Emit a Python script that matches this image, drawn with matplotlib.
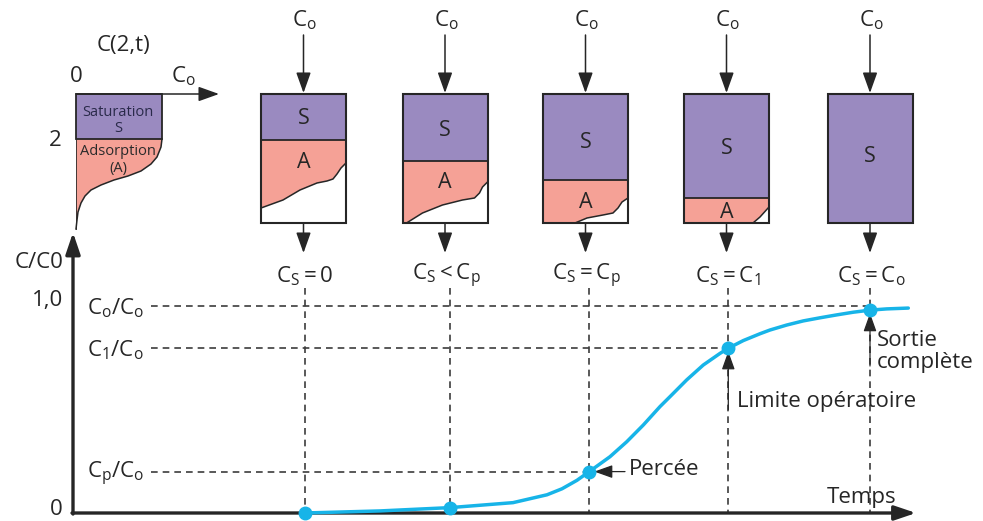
import matplotlib
matplotlib.use('Agg')
import matplotlib.pyplot as plt
from matplotlib.patches import Rectangle, Polygon

plt.rcParams['font.family'] = ['Open Sans', 'DejaVu Sans']
plt.rcParams['mathtext.fontset'] = 'custom'
plt.rcParams['mathtext.rm'] = 'Open Sans'
plt.rcParams['mathtext.it'] = 'Open Sans:italic'
plt.rcParams['mathtext.bf'] = 'Open Sans:bold'

# ---------------- data ----------------
# breakthrough curve (time in arbitrary units, C/C0)
curve_time = [2.32, 3.07, 3.77, 4.40, 4.74, 4.89, 5.04, 5.163, 5.37, 5.537,
              5.703, 5.87, 5.97, 6.137, 6.303, 6.47, 6.553, 6.703, 6.87, 6.97,
              7.137, 7.303, 7.47, 7.637, 7.803, 7.97, 8.137, 8.353]
curve_conc = [0.0, 0.010, 0.026, 0.050, 0.088, 0.117, 0.158, 0.200, 0.272, 0.344,
              0.425, 0.514, 0.562, 0.643, 0.715, 0.771, 0.796, 0.833, 0.866, 0.884,
              0.908, 0.928, 0.943, 0.957, 0.970, 0.980, 0.986, 0.990]

# states of the column
event_time = [2.32, 3.77, 5.163, 6.553, 7.97]
event_conc = [0.0, 0.026, 0.200, 0.796, 0.980]
state_labels = [r'$\mathrm{C_S} = 0$', r'$\mathrm{C_S} < \mathrm{C_p}$',
                r'$\mathrm{C_S} = \mathrm{C_p}$', r'$\mathrm{C_S} = \mathrm{C_1}$',
                r'$\mathrm{C_S} = \mathrm{C_o}$']
# fraction of the bed that is saturated
sat_fraction = [0.36, 0.52, 0.67, 0.81, 1.0]

# reference levels on the C/C0 axis
level_values = [1.0, 0.796, 0.200]
level_labels = [r'$\mathrm{C_o/C_o}$', r'$\mathrm{C_1/C_o}$', r'$\mathrm{C_p/C_o}$']
level_event = [4, 3, 2]  # which state the dashed line reaches

# ---------------- styles ----------------
PURPLE = '#9a8ac0'
PINK = '#f5a196'
BLUE = '#17b4e8'
DARK = '#262626'
DASH = '#3c3c3c'

W, H = 983, 521
fig = plt.figure(figsize=(W / 100, H / 100), dpi=100)

# pixel-space axes for the schematic drawings
axp = fig.add_axes([0, 0, 1, 1])
axp.set_xlim(0, W)
axp.set_ylim(H, 0)
axp.axis('off')

# chart axes (time, C/C0)
axc = fig.add_axes([0, 0, 1, 1])
axc.patch.set_alpha(0)
X0, XS = 73, 100.0      # pixel of t=0, pixels per time unit
Y0, YS = 513, 207.0     # pixel of C/C0=0, pixels per unit
axc.set_xlim((0 - X0) / XS, (W - X0) / XS)
axc.set_ylim((Y0 - H) / YS, Y0 / YS)
axc.axis('off')

FS = 16

# ---------------- top-left profile ----------------
pl, pr, pt, pb = 76, 162, 94, 139
prof_front = [(162, 139), (161, 147), (157, 157), (151, 164), (141, 171), (128, 176),
              (114, 180), (101, 185), (91, 190), (85, 196), (81, 203), (78, 212),
              (77, 220), (76, 229)]
axp.add_patch(Polygon([(pl, pb)] + prof_front, closed=True, fc=PINK, ec='none', zorder=1))
axp.plot([p[0] for p in prof_front], [p[1] for p in prof_front], color=DARK, lw=1.1, zorder=3)
axp.add_patch(Rectangle((pl, pt), pr - pl, pb - pt, fc=PURPLE, ec=DARK, lw=1.3, zorder=2))
axp.plot([pl, pl], [pb, 229], color=DARK, lw=0.6, zorder=3)
axp.annotate('', xy=(219, pt), xytext=(pl, pt),
             arrowprops=dict(arrowstyle='-|>,head_length=0.7,head_width=0.25', color=DARK,
                             lw=1.1, mutation_scale=18, shrinkA=0, shrinkB=0), zorder=4)
axp.text(124, 46, 'C(2,t)', fontsize=FS, ha='center', va='center', color=DARK)
axp.text(76, 76, '0', fontsize=FS, ha='center', va='center', color=DARK)
axp.text(183, 76, r'$\mathrm{C_o}$', fontsize=FS, ha='center', va='center', color=DARK)
axp.text(55, 141, '2', fontsize=FS, ha='center', va='center', color=DARK)
axp.text(118, 120.5, 'Saturation\nS', fontsize=10.5, ha='center', va='center',
         color='#2a2a4a', linespacing=1.1, zorder=5)
axp.text(118, 160, 'Adsorption\n(A)', fontsize=10.5, ha='center', va='center',
         color='#2a2a2a', linespacing=1.1, zorder=5)

# ---------------- columns ----------------
col_centers = [303.5, 445, 585.5, 726.5, 870]
s_text_y = [118, 130, 142, 148, 157]
a_text_y = [162, 183, 202, 213]
bw, bt, bb = 85, 94, 223
bh = bb - bt
fronts = [
    [(0, 114), (22, 106), (39, 96), (56, 89), (66, 87), (72, 85), (76, 80), (80, 74), (85, 69)],
    [(4, 129), (20, 119), (40, 111), (60, 106), (72, 104), (77, 99), (80, 93), (85, 88)],
    [(32, 129), (44, 124), (60, 121), (70, 119), (75, 114), (79, 108), (85, 104)],
    [(69, 129), (76, 123), (85, 113)],
]
ap = dict(arrowstyle='-|>,head_length=0.7,head_width=0.25', color=DARK, lw=1.1,
          mutation_scale=18, shrinkA=0, shrinkB=0)
for i, cx in enumerate(col_centers):
    left = cx - bw / 2
    bnd = bt + sat_fraction[i] * bh
    if sat_fraction[i] < 1:
        axp.add_patch(Rectangle((left, bnd), bw, bb - bnd, fc=PINK, ec='none', zorder=1))
        fr = [(left + dx, bt + dy) for dx, dy in fronts[i]]
        poly = fr + [(left + bw, bb), (left, bb)]
        axp.add_patch(Polygon(poly, closed=True, fc='white', ec='none', zorder=2))
        axp.plot([p[0] for p in fr], [p[1] for p in fr], color=DARK, lw=1.1, zorder=3)
        axp.text(cx, a_text_y[i], 'A', fontsize=15.5, ha='center', va='center',
                 color=DARK, zorder=6)
    axp.add_patch(Rectangle((left, bt), bw, bnd - bt, fc=PURPLE, ec='none', zorder=2))
    axp.plot([left, left + bw], [bnd, bnd], color=DARK, lw=1.3, zorder=4)
    axp.add_patch(Rectangle((left, bt), bw, bh, fc='none', ec=DARK, lw=1.5, zorder=5))
    axp.text(cx, s_text_y[i], 'S', fontsize=15.5, ha='center', va='center',
             color=DARK, zorder=6)
    axp.annotate('', xy=(cx, bt - 1), xytext=(cx, 35), arrowprops=ap, zorder=4)
    axp.annotate('', xy=(cx, 253), xytext=(cx, bb), arrowprops=ap, zorder=4)
    axp.text(cx + 1, 20, r'$\mathrm{C_o}$', fontsize=FS, ha='center', va='center', color=DARK)
    axp.text(cx + 1, 276, state_labels[i], fontsize=FS, ha='center', va='center', color=DARK)

# ---------------- breakthrough chart ----------------
axc.annotate('', xy=(0, 1.355), xytext=(0, -0.005),
             arrowprops=dict(arrowstyle='-|>,head_length=0.65,head_width=0.22', color=DARK,
                             lw=2.4, mutation_scale=20, shrinkA=0, shrinkB=0))
axc.annotate('', xy=(8.43, 0), xytext=(-0.01, 0),
             arrowprops=dict(arrowstyle='-|>,head_length=0.65,head_width=0.22', color=DARK,
                             lw=2.4, mutation_scale=20, shrinkA=0, shrinkB=0))

dash = (0, (4, 3))
lbl_end = 0.78
for v, lab, ev in zip(level_values, level_labels, level_event):
    axc.plot([lbl_end, event_time[ev]], [v, v], color=DASH, lw=1.2, ls=dash, zorder=1)
    axc.text(0.71, v - 0.01, lab, fontsize=FS, ha='right', va='center', color=DARK)
for t in event_time:
    axc.plot([t, t], [1.085, 0], color=DASH, lw=1.2, ls=dash, zorder=1)

axc.plot(curve_time, curve_conc, color=BLUE, lw=2.5, zorder=3,
         solid_capstyle='round', solid_joinstyle='round')
axc.plot(event_time, event_conc, 'o', color=BLUE, ms=9, zorder=4)

axc.text(-0.09, 1.208, 'C/C0', fontsize=FS, ha='right', va='center', color=DARK)
axc.text(-0.10, 1.025, '1,0', fontsize=FS, ha='right', va='center', color=DARK)
axc.text(-0.10, 0.015, '0', fontsize=FS, ha='right', va='center', color=DARK)
axc.text(7.89, 0.075, 'Temps', fontsize=FS, ha='center', va='center', color=DARK)

ann = dict(arrowstyle='-|>,head_length=0.7,head_width=0.25', color=DARK, lw=0.9,
           mutation_scale=16, shrinkA=0, shrinkB=0)
# Percée
axc.annotate('', xy=(event_time[2] + 0.05, event_conc[2]), xytext=(5.52, event_conc[2]),
             arrowprops=ann)
axc.text(5.56, event_conc[2] + 0.01, 'Percée', fontsize=FS, ha='left', va='center', color=DARK)
# Limite opératoire
axc.annotate('', xy=(event_time[3], event_conc[3] - 0.015), xytext=(event_time[3], 0.50),
             arrowprops=ann)
axc.text(6.64, 0.54, 'Limite opératoire', fontsize=FS, ha='left', va='center', color=DARK)
# Sortie complète
axc.annotate('', xy=(event_time[4], event_conc[4] - 0.015), xytext=(event_time[4], 0.71),
             arrowprops=ann)
axc.text(8.04, 0.78, 'Sortie\ncomplète', fontsize=FS, ha='left', va='center', color=DARK,
         linespacing=1.05)

fig.savefig('out.png', dpi=100)
